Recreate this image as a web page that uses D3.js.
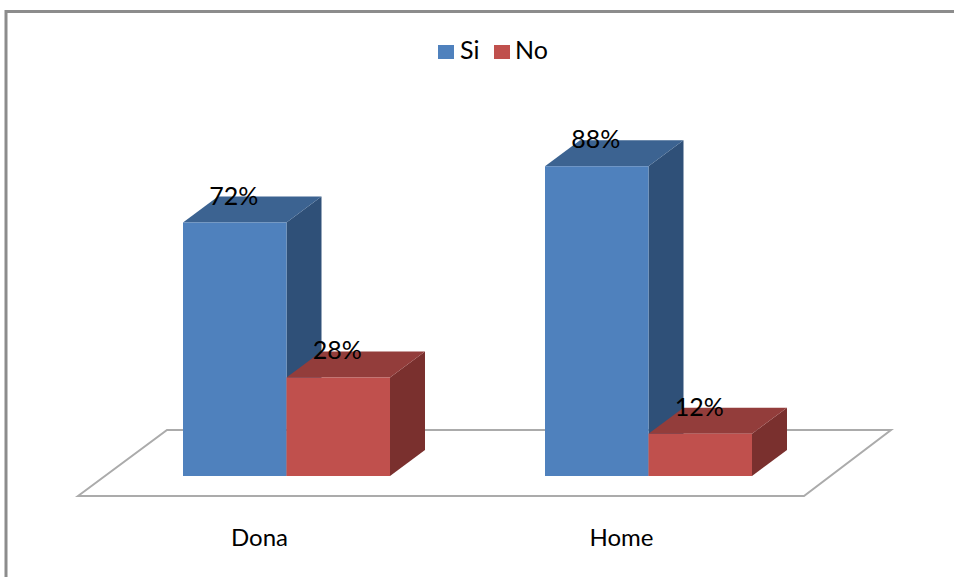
<!DOCTYPE html>
<html>
<head>
<meta charset="utf-8">
<script src="https://cdn.jsdelivr.net/npm/d3@7/dist/d3.min.js"></script>
<style>
  html, body { margin: 0; padding: 0; background: #fff; }
  svg { display: block; }
  text { font-family: Lato, "Open Sans", sans-serif; fill: #000; }
</style>
</head>
<body>
<svg id="chart" width="954" height="577"></svg>
<script>
const categories = ["Dona", "Home"];
const seriesNames = ["Si", "No"];
const siValues = [72, 88];
const noValues = [28, 12];

const seriesValues = { Si: siValues, No: noValues };
const faceColors = {
  Si: { front: "#4F81BD", top: "#3C6391", side: "#2F5078" },
  No: { front: "#C0504D", top: "#933D3B", side: "#7A302E" }
};

const svg = d3.select("#chart");

// Oblique projection: how far the depth of the box shifts right and up
const depthX = 35, depthY = 26;
const floorDepthX = 87, floorDepthY = 66;
const floorFrontY = 496, baseY = 476;
const floorLeft = 78, floorRight = 804;

const x = d3.scaleBand().domain(categories).range([78.5, 802.5]);
const xSeries = d3.scaleBand().domain(seriesNames).range([-103.5, 103.5]);
const y = d3.scaleLinear().domain([0, 100]).range([baseY, baseY - 352]);
const barOffset = 27;

// Chart frame: only the top and left edges are visible
svg.append("path")
  .attr("d", "M6,577V11.5H954")
  .attr("fill", "none")
  .attr("stroke", "#8C8C8C")
  .attr("stroke-width", 3);

// Floor plane
svg.append("path")
  .attr("d", d3.line()([
    [floorLeft, floorFrontY],
    [floorLeft + floorDepthX + 2, floorFrontY - floorDepthY],
    [floorRight + floorDepthX, floorFrontY - floorDepthY],
    [floorRight, floorFrontY]
  ]) + "Z")
  .attr("fill", "#fff")
  .attr("stroke", "#ABABAB")
  .attr("stroke-width", 2);

// 3D columns, each painted side, top, then front
const bars = seriesNames.flatMap(s =>
  categories.map((c, i) => ({ series: s, category: c, value: seriesValues[s][i] }))
);
const barLeft = d => x(d.category) + x.bandwidth() / 2 + barOffset + xSeries(d.series);

svg.append("g").selectAll("g")
  .data(bars)
  .join("g")
  .each(function (d) {
    const g = d3.select(this);
    const x0 = barLeft(d);
    const x1 = x0 + xSeries.bandwidth();
    const yTop = y(d.value);
    const colors = faceColors[d.series];
    const poly = pts => d3.line()(pts) + "Z";

    g.append("path").attr("fill", colors.side).attr("d", poly([
      [x1, yTop], [x1 + depthX, yTop - depthY], [x1 + depthX, baseY - depthY], [x1, baseY]
    ]));
    g.append("path").attr("fill", colors.top).attr("d", poly([
      [x0, yTop], [x0 + depthX, yTop - depthY], [x1 + depthX, yTop - depthY], [x1, yTop]
    ]));
    g.append("path").attr("fill", colors.front).attr("d", poly([
      [x0, yTop], [x1, yTop], [x1, baseY], [x0, baseY]
    ]));
  });

// Value labels sit over the top face of each column
svg.append("g").selectAll("text")
  .data(bars)
  .join("text")
  .attr("x", d => barLeft(d) + xSeries.bandwidth() / 2 - 1)
  .attr("y", d => y(d.value) - 18)
  .attr("text-anchor", "middle")
  .attr("font-size", 25)
  .text(d => d.value + "%");

// Category axis below the floor
const axis = svg.append("g")
  .attr("transform", `translate(0,${floorFrontY})`)
  .call(d3.axisBottom(x).tickSize(0).tickPadding(33));
axis.select(".domain").remove();
axis.selectAll("text")
  .attr("font-size", 24)
  .style("font-family", 'Lato, "Open Sans", sans-serif')
  .attr("dy", "0.71em");

// Legend
const legendItems = [{ name: "Si", sx: 438, tx: 460 }, { name: "No", sx: 494, tx: 515 }];
const legend = svg.append("g").selectAll("g").data(legendItems).join("g");
legend.append("rect")
  .attr("x", d => d.sx).attr("y", 45)
  .attr("width", 16).attr("height", 14)
  .attr("fill", d => faceColors[d.name].front);
legend.append("text")
  .attr("x", d => d.tx).attr("y", 59)
  .attr("font-size", 25)
  .text(d => d.name);
</script>
</body>
</html>
